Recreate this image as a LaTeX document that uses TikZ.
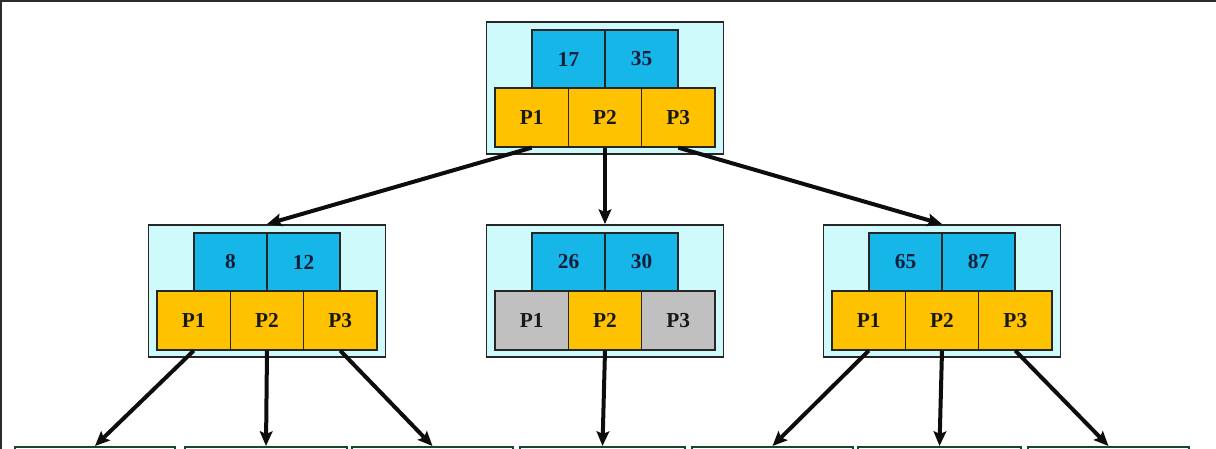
\documentclass[tikz,border=0pt]{standalone}
\usepackage{fontspec}
\setmainfont{Liberation Serif}
\usetikzlibrary{arrows.meta}
\definecolor{outerfill}{RGB}{206,250,252}
\definecolor{keyfill}{RGB}{22,182,232}
\definecolor{ptrfill}{RGB}{255,194,0}
\definecolor{grayfill}{RGB}{192,192,192}
\definecolor{keytext}{RGB}{20,30,60}
\definecolor{leafline}{RGB}{25,70,45}
\definecolor{framecol}{RGB}{45,45,45}
\tikzset{
  outerbox/.style={draw=black!85,line width=1.4pt,fill=outerfill,minimum width=237*0.75pt,minimum height=132*0.75pt,inner sep=0pt},
  keycell/.style={draw=black!85,line width=1pt,fill=keyfill,minimum width=73*0.75pt,minimum height=58*0.75pt,inner sep=0pt,font=\fontsize{16}{18}\selectfont\bfseries,text=keytext},
  ptrcell/.style={draw=black!85,line width=1pt,minimum width=73.3*0.75pt,minimum height=59*0.75pt,inner sep=0pt,font=\fontsize{16}{18}\selectfont\bfseries,text=black!90},
  leafbox/.style={draw=leafline,line width=1.5pt,fill=white,minimum height=20*0.75pt,inner sep=0pt},
  link/.style={line width=3pt,black!95,-{Stealth[length=11pt,width=9.5pt,inset=2pt]}},
  frameline/.style={line width=1.8pt,framecol}
}
\newcommand\btreenode[8]{%
  \node[outerbox] (#1) at (#2,#3+66) {};
  \node[keycell] (#1k1) at (#2-36.5,#3+37) {#4};
  \node[keycell] (#1k2) at (#2+36.5,#3+37) {#5};
  \node[ptrcell,fill=#6] (#1p1) at (#2-73.3,#3+95.5) {P1};
  \node[ptrcell,fill=#7] (#1p2) at (#2,#3+95.5) {P2};
  \node[ptrcell,fill=#8] (#1p3) at (#2+73.3,#3+95.5) {P3};
}
\begin{document}
\begin{tikzpicture}[x=0.75pt,y=-0.75pt]
\clip (0,0) rectangle (1216,449);
\fill[white] (0,0) rectangle (1216,449);
\draw[frameline] (0,1) -- (1216,1);
\draw[frameline] (1,0) -- (1,449);

\btreenode{r}{605}{22}{17}{35}{ptrfill}{ptrfill}{ptrfill}
\btreenode{a}{267}{225}{8}{12}{ptrfill}{ptrfill}{ptrfill}
\btreenode{b}{605}{225}{26}{30}{grayfill}{ptrfill}{grayfill}
\btreenode{c}{942}{225}{65}{87}{ptrfill}{ptrfill}{ptrfill}

\node[leafbox,minimum width=160*0.75pt] (l1) at (95,457) {};
\node[leafbox,minimum width=162*0.75pt] (l2) at (266,457) {};
\node[leafbox,minimum width=161*0.75pt] (l3) at (432.5,457) {};
\node[leafbox,minimum width=165*0.75pt] (l4) at (602.5,457) {};
\node[leafbox,minimum width=161*0.75pt] (l5) at (772.5,457) {};
\node[leafbox,minimum width=163*0.75pt] (l6) at (939.5,457) {};
\node[leafbox,minimum width=161*0.75pt] (l7) at (1108.5,457) {};

\draw[link] (rp1.south) -- (a.north);
\draw[link] (rp2.south) -- (b.north);
\draw[link] (rp3.south) -- (c.north);
\draw[link] (ap1.south) -- (l1.north);
\draw[link] (ap2.south) -- (l2.north);
\draw[link] (ap3.south) -- (l3.north);
\draw[link] (bp2.south) -- (l4.north);
\draw[link] (cp1.south) -- (l5.north);
\draw[link] (cp2.south) -- (l6.north);
\draw[link] (cp3.south) -- (l7.north);
\end{tikzpicture}
\end{document}
